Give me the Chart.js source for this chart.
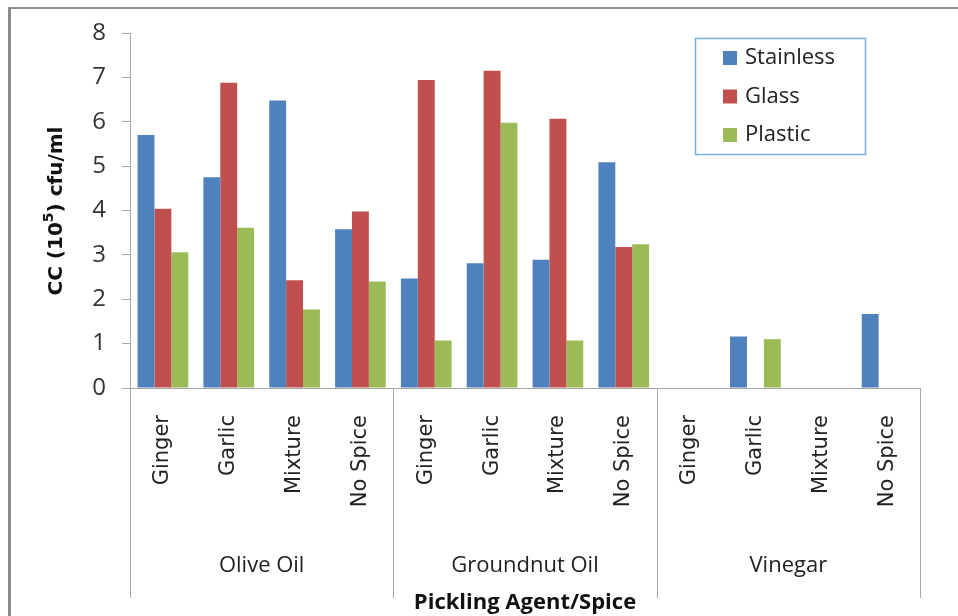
<!DOCTYPE html>
<html>
<head>
<meta charset="utf-8">
<script src="https://cdn.jsdelivr.net/npm/chart.js@4.4.1/dist/chart.umd.min.js"></script>
<style>
  body { margin: 0; background: #fff; }
  canvas { display: block; }
</style>
</head>
<body>
<canvas id="ccChart" width="958" height="616"></canvas>
<script>
// Groups and spices on the x axis
const groups = ["Olive Oil", "Groundnut Oil", "Vinegar"];
const spices = ["Ginger", "Garlic", "Mixture", "No Spice"];

// Series values, one per group/spice pair (CC x10^5 cfu/ml)
const seriesNames = ["Stainless", "Glass", "Plastic"];
const stainless = [5.70, 4.75, 6.48, 3.58, 2.47, 2.81, 2.89, 5.09, 0, 1.16, 0, 1.67];
const glass     = [4.04, 6.88, 2.43, 3.98, 6.94, 7.15, 6.07, 3.18, 0, 0, 0, 0];
const plastic   = [3.06, 3.61, 1.77, 2.40, 1.07, 5.98, 1.07, 3.24, 0, 1.10, 0, 0];

// Y axis range
const yMin = 0;
const yMax = 8;
const yStep = 1;

const colors = ["#4F81BD", "#C0504D", "#9BBB59"];

let labels = [];
groups.forEach(() => spices.forEach(s => labels.push(s)));

// Frame, group dividers, group names, axis titles and the legend
const decor = {
    id: "decor",
    beforeDraw(chart) {
        const ctx = chart.ctx;
        ctx.save();
        ctx.fillStyle = "#8c8c8c";
        ctx.fillRect(8, 7, 3, 609);
        ctx.fillRect(8, 7, 950, 2);
        ctx.restore();
    },
    afterDraw(chart) {
        const { ctx, chartArea, scales: { x } } = chart;
        const step = x.getPixelForValue(1) - x.getPixelForValue(0);
        const n = spices.length;

        ctx.save();
        // group dividers below the axis
        ctx.strokeStyle = "#a6a6a6";
        ctx.lineWidth = 1;
        for (let g = 0; g <= groups.length; g++) {
            let px = g < groups.length
                ? x.getPixelForValue(g * n) - step / 2
                : x.getPixelForValue(labels.length - 1) + step / 2;
            px = Math.round(px) + 0.5;
            ctx.beginPath();
            ctx.moveTo(px, chartArea.bottom);
            ctx.lineTo(px, 598);
            ctx.stroke();
        }

        // group names
        ctx.fillStyle = "#222";
        ctx.font = "22px 'Open Sans'";
        ctx.textAlign = "center";
        ctx.textBaseline = "middle";
        groups.forEach((name, g) => {
            const cx = (x.getPixelForValue(g * n) + x.getPixelForValue(g * n + n - 1)) / 2;
            ctx.fillText(name, cx, 566);
        });

        // x axis title
        ctx.font = "bold 22px 'Open Sans'";
        ctx.fillStyle = "#111";
        ctx.fillText("Pickling Agent/Spice", (chartArea.left + chartArea.right) / 2, 603);

        // y axis title with superscript
        ctx.save();
        ctx.translate(62, 211);
        ctx.rotate(-Math.PI / 2);
        ctx.textAlign = "left";
        ctx.textBaseline = "alphabetic";
        const big = "bold 20px 'DejaVu Sans'";
        const small = "bold 14px 'DejaVu Sans'";
        const parts = [["CC (10", big, 0], ["5", small, -9], [") cfu/ml", big, 0]];
        let total = 0;
        parts.forEach(p => { ctx.font = p[1]; total += ctx.measureText(p[0]).width; });
        let cur = -total / 2;
        parts.forEach(p => {
            ctx.font = p[1];
            ctx.fillText(p[0], cur, p[2]);
            cur += ctx.measureText(p[0]).width;
        });
        ctx.restore();

        // legend box
        ctx.strokeStyle = "#79aee0";
        ctx.lineWidth = 1.5;
        ctx.strokeRect(695.5, 38.5, 170, 116);
        ctx.font = "22px 'Open Sans'";
        ctx.textAlign = "left";
        ctx.textBaseline = "middle";
        chart.data.datasets.forEach((ds, i) => {
            const cy = 58 + i * 38.5;
            ctx.fillStyle = ds.backgroundColor;
            ctx.fillRect(723, cy - 7, 14, 14);
            ctx.fillStyle = "#222";
            ctx.fillText(ds.label, 745, cy);
        });
        ctx.restore();
    }
};

const ctx = document.getElementById("ccChart").getContext("2d");
new Chart(ctx, {
    type: "bar",
    data: {
        labels: labels,
        datasets: [
            { label: seriesNames[0], data: stainless, backgroundColor: colors[0] },
            { label: seriesNames[1], data: glass, backgroundColor: colors[1] },
            { label: seriesNames[2], data: plastic, backgroundColor: colors[2] }
        ]
    },
    options: {
        responsive: false,
        animation: false,
        datasets: {
            bar: { categoryPercentage: 0.77, barPercentage: 1.0 }
        },
        layout: { padding: { top: 33, right: 38, bottom: 0, left: 0 } },
        plugins: {
            legend: { display: false },
            tooltip: { enabled: false }
        },
        scales: {
            x: {
                grid: { display: false },
                border: { display: true, color: "#a6a6a6", width: 1 },
                ticks: {
                    minRotation: 90,
                    maxRotation: 90,
                    padding: 19,
                    color: "#222",
                    font: { family: "DejaVu Sans", size: 21 }
                },
                afterFit(scale) { scale.height = 228; }
            },
            y: {
                min: yMin,
                max: yMax,
                grid: { drawOnChartArea: false, drawTicks: true, tickLength: 8, color: "#a6a6a6" },
                border: { display: true, color: "#a6a6a6", width: 1 },
                ticks: {
                    stepSize: yStep,
                    padding: 16,
                    color: "#333",
                    font: { family: "Open Sans", size: 24 }
                },
                afterFit(scale) { scale.width = 130; }
            }
        }
    },
    plugins: [decor]
});
</script>
</body>
</html>
